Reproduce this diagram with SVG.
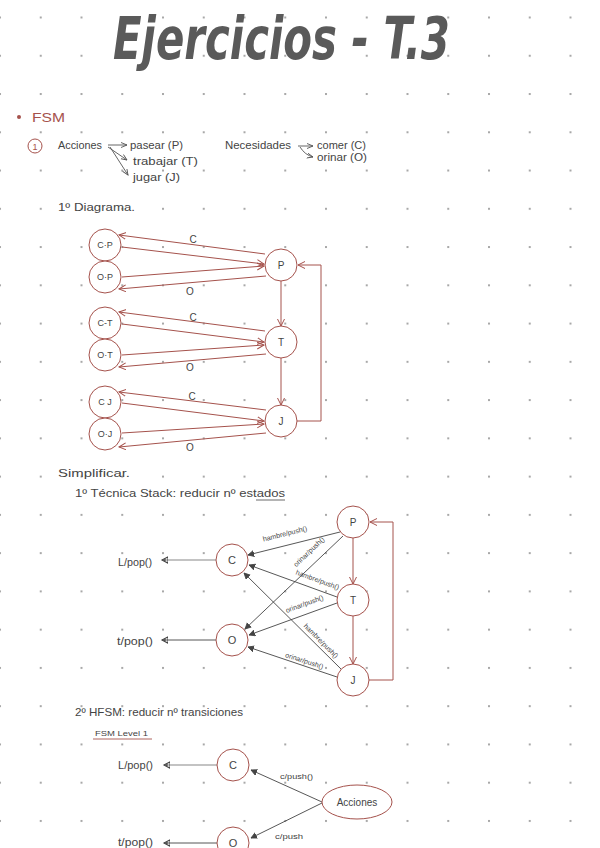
<svg xmlns="http://www.w3.org/2000/svg" width="600" height="848" viewBox="0 0 600 848">
<style>
.t{font-family:"Liberation Sans",Arial,sans-serif;fill:#444}
.red{stroke:#a5524c;fill:none;stroke-width:1}
.node{stroke:#a5524c;fill:#fff;stroke-width:1}
.dk{stroke:#444;fill:none;stroke-width:0.9}
.gr{stroke:#888;fill:none;stroke-width:1.2}
.lab{font-family:"Liberation Sans",Arial,sans-serif;fill:#444;font-size:7px;text-anchor:middle}
.nl{font-family:"Liberation Sans",Arial,sans-serif;fill:#444;text-anchor:middle;dominant-baseline:central}
</style>
<defs>
<pattern id="grid" patternUnits="userSpaceOnUse" x="-1" y="16.5" width="40.75" height="38.26">
<rect x="0" y="0" width="2" height="2" fill="#a8a8a8"/>
</pattern>
<marker id="ar" markerUnits="userSpaceOnUse" markerWidth="9" markerHeight="9" refX="7" refY="4" orient="auto">
<path d="M0,0.5 L7,4 L0,7.5" fill="none" stroke="#a5524c" stroke-width="1"/>
</marker>
<marker id="ad" markerUnits="userSpaceOnUse" markerWidth="9" markerHeight="9" refX="6" refY="3.5" orient="auto">
<path d="M0,0.5 L6,3.5 L0,6.5 Z" fill="#444" stroke="#444" stroke-width="0.8"/>
</marker>
<marker id="ag" markerUnits="userSpaceOnUse" markerWidth="9" markerHeight="9" refX="6" refY="3" orient="auto">
<path d="M0,0.5 L6,3 L0,5.5" fill="none" stroke="#555" stroke-width="0.9"/>
</marker>
<marker id="ap" markerUnits="userSpaceOnUse" markerWidth="10" markerHeight="10" refX="6" refY="4" orient="auto">
<path d="M0,0.8 L6,4 L0,7.2 Z M3,2.4 L3,5.6" fill="none" stroke="#444" stroke-width="1.1"/>
</marker>
</defs>
<rect width="600" height="848" fill="#fff"/>
<rect width="600" height="848" fill="url(#grid)"/>

<g id="title">
<text x="113" y="59" class="t" style="fill:#5a5a5a;font-family:'DejaVu Sans',sans-serif;font-weight:bold;font-style:italic" font-size="58" textLength="337" lengthAdjust="spacingAndGlyphs">Ejercicios - T.3</text>
</g>

<g id="header">
<circle cx="19" cy="117" r="2" fill="#a5524c"/>
<text x="32" y="122" class="t" style="fill:#a5524c" font-size="13" textLength="33" lengthAdjust="spacingAndGlyphs">FSM</text>
<circle cx="35" cy="146" r="7" class="red"/>
<text x="35" y="149.5" class="t" style="fill:#a5524c;text-anchor:middle" font-size="9">1</text>
<text x="58" y="149" class="t" font-size="10" textLength="44" lengthAdjust="spacingAndGlyphs">Acciones</text>
<text x="130" y="149" class="t" font-size="10" textLength="53" lengthAdjust="spacingAndGlyphs">pasear (P)</text>
<text x="133" y="165" class="t" font-size="10" textLength="65" lengthAdjust="spacingAndGlyphs">trabajar (T)</text>
<text x="133" y="181" class="t" font-size="10" textLength="47" lengthAdjust="spacingAndGlyphs">jugar (J)</text>
<text x="225" y="149" class="t" font-size="10" textLength="66" lengthAdjust="spacingAndGlyphs">Necesidades</text>
<text x="317" y="149" class="t" font-size="10" textLength="49" lengthAdjust="spacingAndGlyphs">comer (C)</text>
<text x="317" y="161" class="t" font-size="10" textLength="50" lengthAdjust="spacingAndGlyphs">orinar (O)</text>
<text x="58" y="211" class="t" font-size="11" textLength="77" lengthAdjust="spacingAndGlyphs">1º Diagrama.</text>
</g>

<g id="header-arrows" fill="none" stroke="#555" stroke-width="0.9">
<line x1="108" y1="145" x2="127" y2="145" marker-end="url(#ag)"/>
<line x1="108" y1="147" x2="127" y2="160" marker-end="url(#ag)"/>
<line x1="110" y1="147" x2="128" y2="175" marker-end="url(#ag)"/>
<line x1="298" y1="146" x2="313" y2="146" marker-end="url(#ag)"/>
<path d="M300,147 Q305,155 313,157" marker-end="url(#ag)"/>
</g>

<g id="d1-connectors">
<line x1="265" y1="254" x2="119" y2="235" class="red" marker-end="url(#ar)"/>
<line x1="122" y1="247" x2="264" y2="264" class="red" marker-end="url(#ar)"/>
<line x1="122" y1="277" x2="264" y2="266" class="red" marker-end="url(#ar)"/>
<line x1="266" y1="276" x2="119" y2="289" class="red" marker-end="url(#ar)"/>
<line x1="265" y1="331" x2="119" y2="312" class="red" marker-end="url(#ar)"/>
<line x1="122" y1="324" x2="264" y2="342" class="red" marker-end="url(#ar)"/>
<line x1="122" y1="355" x2="264" y2="345" class="red" marker-end="url(#ar)"/>
<line x1="266" y1="354" x2="119" y2="367" class="red" marker-end="url(#ar)"/>
<line x1="266" y1="410" x2="119" y2="392" class="red" marker-end="url(#ar)"/>
<line x1="122" y1="403" x2="264" y2="421" class="red" marker-end="url(#ar)"/>
<line x1="122" y1="433" x2="264" y2="424" class="red" marker-end="url(#ar)"/>
<line x1="266" y1="433" x2="119" y2="447" class="red" marker-end="url(#ar)"/>
<line x1="281" y1="281" x2="281" y2="326" class="red" marker-end="url(#ar)"/>
<line x1="281" y1="358" x2="281" y2="405" class="red" marker-end="url(#ar)"/>
<path d="M297,421 H321 V265 H298" class="red" marker-end="url(#ar)"/>
<text x="193" y="243" class="lab" style="font-size:10px">C</text>
<text x="190" y="295" class="lab" style="font-size:10px">O</text>
<text x="193" y="321" class="lab" style="font-size:10px">C</text>
<text x="190" y="371" class="lab" style="font-size:10px">O</text>
<text x="192" y="400" class="lab" style="font-size:10px">C</text>
<text x="190" y="451" class="lab" style="font-size:10px">O</text>
</g>

<g id="d1-CP"><circle cx="105" cy="245" r="16" class="node"/><text x="105" y="245" class="nl" font-size="9">C·P</text></g>
<g id="d1-OP"><circle cx="105" cy="277" r="16" class="node"/><text x="105" y="277" class="nl" font-size="9">O·P</text></g>
<g id="d1-CT"><circle cx="105" cy="323" r="16" class="node"/><text x="105" y="323" class="nl" font-size="9">C-T</text></g>
<g id="d1-OT"><circle cx="105" cy="355" r="16" class="node"/><text x="105" y="355" class="nl" font-size="9">O·T</text></g>
<g id="d1-CJ"><circle cx="105" cy="402" r="16" class="node"/><text x="105" y="402" class="nl" font-size="9">C J</text></g>
<g id="d1-OJ"><circle cx="105" cy="434" r="16" class="node"/><text x="105" y="434" class="nl" font-size="9">O·J</text></g>
<g id="d1-P"><circle cx="281" cy="265" r="16" class="node"/><text x="281" y="265" class="nl" font-size="10">P</text></g>
<g id="d1-T"><circle cx="281" cy="342" r="16" class="node"/><text x="281" y="342" class="nl" font-size="10">T</text></g>
<g id="d1-J"><circle cx="281" cy="421" r="16" class="node"/><text x="281" y="421" class="nl" font-size="10">J</text></g>

<g id="simplificar">
<text x="58" y="477" class="t" font-size="11" textLength="72" lengthAdjust="spacingAndGlyphs">Simplificar.</text>
<text x="75" y="497" class="t" font-size="10.5" textLength="210" lengthAdjust="spacingAndGlyphs">1º Técnica Stack: reducir nº estados</text>
<line x1="256" y1="500" x2="285" y2="500" stroke="#444" stroke-width="0.8"/>
</g>

<g id="d2-connectors">
<line x1="340" y1="532" x2="248" y2="555" class="dk" marker-end="url(#ad)"/>
<line x1="343" y1="536" x2="245" y2="629" class="dk" marker-end="url(#ad)"/>
<line x1="337" y1="597" x2="249" y2="565" class="dk" marker-end="url(#ad)"/>
<line x1="337" y1="603" x2="249" y2="635" class="dk" marker-end="url(#ad)"/>
<line x1="341" y1="669" x2="244" y2="573" class="dk" marker-end="url(#ad)"/>
<line x1="337" y1="677" x2="248" y2="647" class="dk" marker-end="url(#ad)"/>
<line x1="216" y1="560" x2="162" y2="560" class="gr" marker-end="url(#ap)"/>
<line x1="216" y1="640" x2="162" y2="640" class="dk" marker-end="url(#ap)"/>
<line x1="353" y1="538" x2="353" y2="584" class="red" marker-end="url(#ar)"/>
<line x1="353" y1="616" x2="353" y2="664" class="red" marker-end="url(#ar)"/>
<path d="M369,680 H393 V522 H370" class="red" marker-end="url(#ar)"/>
<text class="lab" y="-2" transform="translate(286,538) rotate(-14)">hambre/push()</text>
<text class="lab" y="-2" transform="translate(312,555) rotate(-43.5)">orinar/push()</text>
<text class="lab" y="-2" transform="translate(316,584) rotate(20)">hambre/push()</text>
<text class="lab" y="-2" transform="translate(306,608) rotate(-20)">orinar/push()</text>
<text class="lab" y="-2" transform="translate(318,644) rotate(45)">hambre/push()</text>
<text class="lab" y="-2" transform="translate(303,665) rotate(18)">orinar/push()</text>
<text x="118" y="566" class="t" font-size="11" textLength="34" lengthAdjust="spacingAndGlyphs">L/pop()</text>
<text x="117" y="645" class="t" font-size="11" textLength="36" lengthAdjust="spacingAndGlyphs">t/pop()</text>
</g>

<g id="d2-C"><circle cx="232" cy="560" r="16" class="node"/><text x="232" y="560" class="nl" font-size="11">C</text></g>
<g id="d2-O"><circle cx="232" cy="640" r="16" class="node"/><text x="232" y="640" class="nl" font-size="11">O</text></g>
<g id="d2-P"><circle cx="353" cy="522" r="16" class="node"/><text x="353" y="522" class="nl" font-size="10">P</text></g>
<g id="d2-T"><circle cx="353" cy="600" r="16" class="node"/><text x="353" y="600" class="nl" font-size="10">T</text></g>
<g id="d2-J"><circle cx="353" cy="680" r="16" class="node"/><text x="353" y="680" class="nl" font-size="10">J</text></g>

<g id="hfsm">
<text x="75" y="716" class="t" font-size="10.5" textLength="168" lengthAdjust="spacingAndGlyphs">2º HFSM: reducir nº transiciones</text>
<text x="95" y="736" class="t" font-size="8" textLength="53" lengthAdjust="spacingAndGlyphs">FSM Level 1</text>
<line x1="93" y1="739" x2="152" y2="739" stroke="#a5524c" stroke-width="0.9"/>
</g>

<g id="d3-connectors">
<line x1="217" y1="765" x2="164" y2="765" class="gr" marker-end="url(#ap)"/>
<line x1="217" y1="843" x2="164" y2="843" class="dk" marker-end="url(#ap)"/>
<line x1="322" y1="802" x2="251" y2="770" class="dk" marker-end="url(#ad)"/>
<line x1="322" y1="803" x2="251" y2="838" class="dk" marker-end="url(#ad)"/>
<text x="280" y="779" class="t" font-size="8" textLength="33" lengthAdjust="spacingAndGlyphs">c/push()</text>
<text x="275" y="839" class="t" font-size="8" textLength="28" lengthAdjust="spacingAndGlyphs">c/push</text>
<text x="118" y="769" class="t" font-size="11" textLength="35" lengthAdjust="spacingAndGlyphs">L/pop()</text>
<text x="118" y="846" class="t" font-size="10" textLength="35" lengthAdjust="spacingAndGlyphs">t/pop()</text>
</g>

<g id="d3-C"><circle cx="233" cy="765" r="16" class="node"/><text x="233" y="765" class="nl" font-size="11">C</text></g>
<g id="d3-O"><circle cx="233" cy="843" r="16" class="node"/><text x="233" y="843" class="nl" font-size="11">O</text></g>
<g id="d3-Acciones"><ellipse cx="357" cy="802" rx="35" ry="17" class="node"/><text x="357" y="802" class="nl" font-size="10">Acciones</text></g>
</svg>
